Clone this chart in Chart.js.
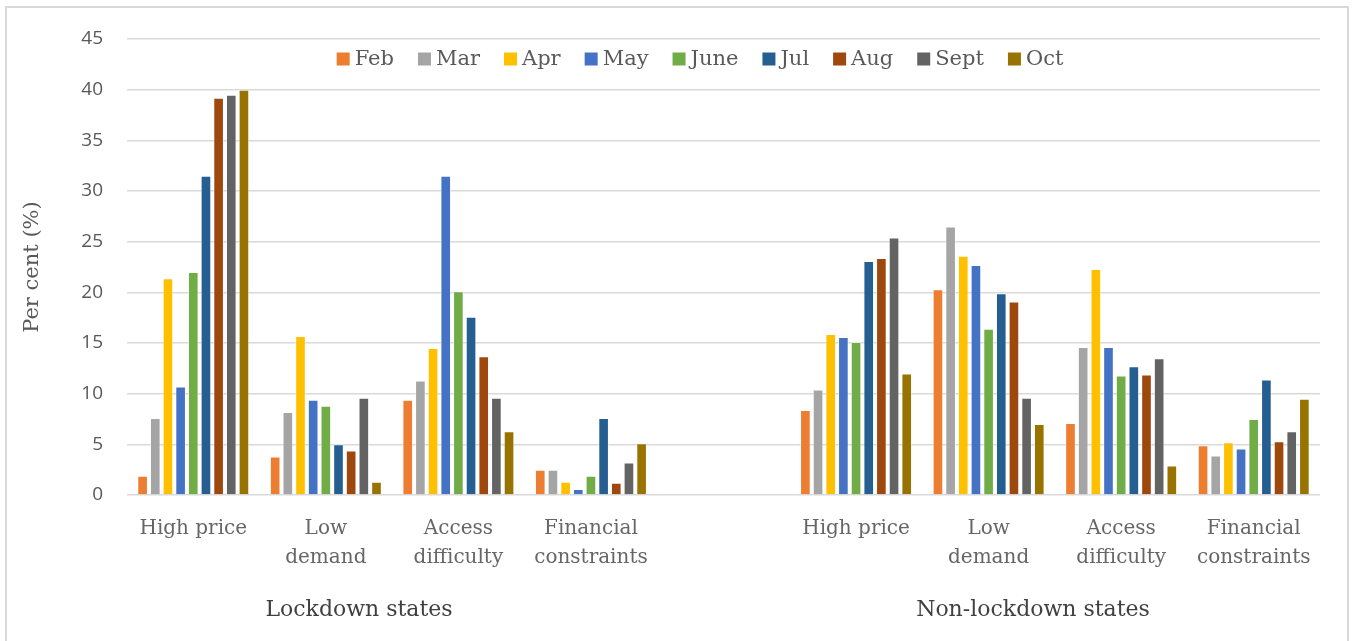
<!DOCTYPE html>
<html>
<head>
<meta charset="utf-8">
<script src="https://cdn.jsdelivr.net/npm/chart.js@4.4.1/dist/chart.umd.min.js"></script>
<style>
  html, body { margin: 0; padding: 0; background: #fff; }
  #wrap { width: 1352px; height: 641px; position: relative; }
</style>
</head>
<body>
<div id="wrap"><canvas id="grafico"></canvas></div>
<script>
const categorias = [['High price'], ['Low', 'demand'], ['Access', 'difficulty'], ['Financial', 'constraints'], '',
  ['High price'], ['Low', 'demand'], ['Access', 'difficulty'], ['Financial', 'constraints']];
const meses = ['Feb', 'Mar', 'Apr', 'May', 'June', 'Jul', 'Aug', 'Sept', 'Oct'];
const cores = ['#ED7D31', '#A5A5A5', '#FFC000', '#4472C4', '#70AD47', '#255E91', '#9E480E', '#636363', '#997300'];
const grupos = ['Lockdown states', 'Non-lockdown states'];
const yTicks = [0, 5, 10, 15, 20, 25, 30, 35, 40, 45];

// one array per month, order: lockdown (4), gap, non-lockdown (4)
const feb  = [1.9, 3.8, 9.4, 2.5, null, 8.4, 20.3, 7.1, 4.9];
const mar  = [7.6, 8.2, 11.3, 2.5, null, 10.4, 26.5, 14.6, 3.9];
const abr  = [21.4, 15.7, 14.5, 1.3, null, 15.9, 23.6, 22.3, 5.2];
const mai  = [10.7, 9.4, 31.5, 0.6, null, 15.6, 22.7, 14.6, 4.6];
const jun  = [22.0, 8.8, 20.1, 1.9, null, 15.1, 16.4, 11.8, 7.5];
const jul  = [31.5, 5.0, 17.6, 7.6, null, 23.1, 19.9, 12.7, 11.4];
const ago  = [39.2, 4.4, 13.7, 1.2, null, 23.4, 19.1, 11.9, 5.3];
const set  = [39.5, 9.6, 9.6, 3.2, null, 25.4, 9.6, 13.5, 6.3];
const out  = [40.0, 1.3, 6.3, 5.1, null, 12.0, 7.0, 2.9, 9.5];
const series = [feb, mar, abr, mai, jun, jul, ago, set, out];

const serif = "'DejaVu Serif', serif";

// moldura, legenda dentro do grafico e rotulos dos grupos
const extras = {
  id: 'extras',
  beforeDraw(chart) {
    const ctx = chart.ctx;
    ctx.save();
    ctx.fillStyle = '#fff';
    ctx.fillRect(0, 0, chart.width, chart.height);
    ctx.strokeStyle = '#D9D9D9';
    ctx.lineWidth = 2;
    ctx.strokeRect(6, 7, 1342, 700);
    ctx.restore();
  },
  afterDraw(chart) {
    const ctx = chart.ctx;
    ctx.save();
    ctx.font = '21px ' + serif;
    ctx.textBaseline = 'middle';
    const box = 13, gapTxt = 5, gapItem = 24;
    const larguras = meses.map(m => ctx.measureText(m).width);
    const total = larguras.reduce((a, w) => a + box + gapTxt + w, 0) + gapItem * (meses.length - 1);
    let x = 700 - total / 2;
    const y = 59;
    meses.forEach((m, i) => {
      ctx.fillStyle = cores[i];
      ctx.fillRect(x, y - box / 2, box, box);
      ctx.fillStyle = '#595959';
      ctx.fillText(m, x + box + gapTxt, y + 1);
      x += box + gapTxt + larguras[i] + gapItem;
    });

    ctx.font = '22px ' + serif;
    ctx.textAlign = 'center';
    ctx.fillStyle = '#404040';
    ctx.fillText(grupos[0], 359, 610);
    ctx.fillText(grupos[1], 1033, 610);
    ctx.restore();
  }
};

new Chart(document.getElementById('grafico'), {
  type: 'bar',
  data: {
    labels: categorias,
    datasets: series.map((d, i) => ({
      label: meses[i],
      data: d,
      backgroundColor: cores[i],
      borderColor: 'rgba(255,255,255,0.5)',
      borderWidth: 1,
      barPercentage: 0.84,
      categoryPercentage: 0.86
    }))
  },
  options: {
    responsive: true,
    maintainAspectRatio: false,
    animation: false,
    layout: { padding: { left: 0, right: 32, top: 39, bottom: 0 } },
    plugins: {
      legend: { display: false },
      tooltip: { enabled: false }
    },
    scales: {
      x: {
        grid: { display: false },
        border: { display: false },
        ticks: {
          color: '#666',
          font: { family: serif, size: 20, lineHeight: 1.45 },
          padding: 11,
          maxRotation: 0,
          autoSkip: false
        },
        afterFit(scale) { scale.height = 146; }
      },
      y: {
        min: 0,
        max: 45,
        afterBuildTicks(scale) { scale.ticks = yTicks.map(v => ({ value: v })); },
        grid: { color: '#D9D9D9', lineWidth: 1.5, drawTicks: false },
        border: { display: false },
        ticks: {
          color: '#595959',
          font: { family: "'Open Sans', sans-serif", size: 19 },
          padding: 24
        },
        title: {
          display: true,
          text: 'Per cent (%)',
          color: '#595959',
          font: { family: serif, size: 21 },
          padding: { top: 20, bottom: 0 }
        },
        afterFit(scale) { scale.width = 127; }
      }
    }
  },
  plugins: [extras]
});
</script>
</body>
</html>
